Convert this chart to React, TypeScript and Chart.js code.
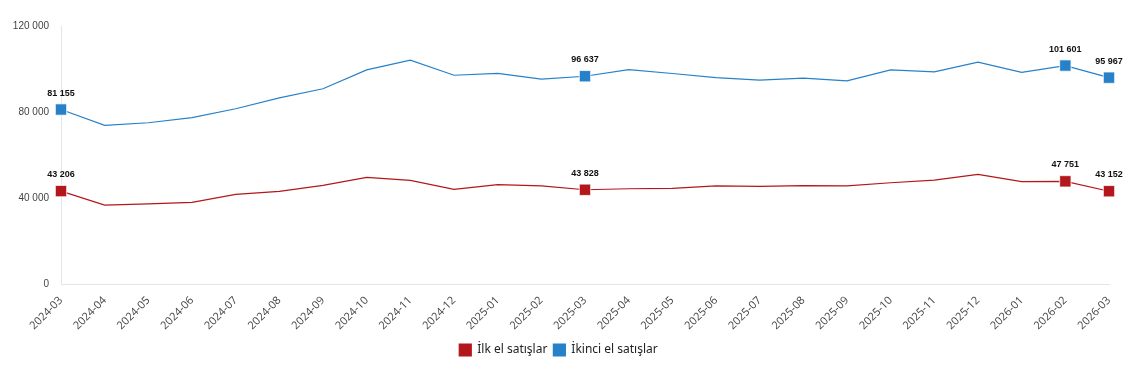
import React, { useEffect, useRef } from "react";
import { Chart, registerables } from "chart.js";

Chart.register(...registerables);

const months = [
  "2024-03", "2024-04", "2024-05", "2024-06", "2024-07", "2024-08", "2024-09", "2024-10", "2024-11", "2024-12",
  "2025-01", "2025-02", "2025-03", "2025-04", "2025-05", "2025-06", "2025-07", "2025-08", "2025-09", "2025-10",
  "2025-11", "2025-12", "2026-01", "2026-02", "2026-03",
];

const firstHandSales = [
  43206, 36700, 37300, 38000, 41700, 43100, 45900, 49600, 48200, 44000,
  46200, 45600, 43828, 44300, 44500, 45600, 45400, 45800, 45600, 47100,
  48300, 51000, 47600, 47751, 43152,
];

const secondHandSales = [
  81155, 73800, 75000, 77400, 81500, 86600, 90800, 99600, 104100, 97100,
  98000, 95300, 96637, 99700, 97900, 96000, 94800, 95800, 94500, 99600,
  98700, 103200, 98400, 101601, 95967,
];

const labelledIndices = [0, 12, 23, 24];

const seriesNames = ["İlk el satışlar", "İkinci el satışlar"];
const yTicks = [0, 40000, 80000, 120000];

const RED = "#b3171b";
const BLUE = "#2781c9";

const fmt = (v: number) => String(v).replace(/\B(?=(\d{3})+(?!\d))/g, " ");

const valueLabelPlugin = {
  id: "valueLabels",
  afterDatasetsDraw(chart: any) {
    const ctx = chart.ctx;
    ctx.save();
    ctx.font = "bold 9px 'Liberation Sans', Arial, sans-serif";
    ctx.fillStyle = "#111";
    ctx.textAlign = "center";
    ctx.textBaseline = "bottom";
    chart.data.datasets.forEach((ds: any, di: number) => {
      const meta = chart.getDatasetMeta(di);
      labelledIndices.forEach((i) => {
        const el = meta.data[i];
        if (!el) return;
        ctx.fillText(fmt(ds.data[i]), el.x, el.y - 12);
      });
    });
    ctx.restore();
  },
};

export default function App() {
  const ref = useRef<HTMLCanvasElement | null>(null);
  useEffect(() => {
    if (!ref.current) return;
    const radii = months.map((_, i) => (labelledIndices.includes(i) ? 8 : 0));
    const chart = new Chart(ref.current, {
      type: "line",
      data: {
        labels: months,
        datasets: [
          {
            label: seriesNames[0],
            data: firstHandSales,
            borderColor: RED,
            backgroundColor: RED,
            borderWidth: 1.2,
            pointStyle: "rect",
            pointRadius: radii,
            pointHoverRadius: radii,
            pointBackgroundColor: RED,
            pointBorderColor: "rgba(255,255,255,0.75)",
            pointBorderWidth: 1,
            tension: 0,
          },
          {
            label: seriesNames[1],
            data: secondHandSales,
            borderColor: BLUE,
            backgroundColor: BLUE,
            borderWidth: 1.2,
            pointStyle: "rect",
            pointRadius: radii,
            pointHoverRadius: radii,
            pointBackgroundColor: BLUE,
            pointBorderColor: "rgba(255,255,255,0.75)",
            pointBorderWidth: 1,
            tension: 0,
          },
        ],
      },
      options: {
        animation: false,
        responsive: true,
        maintainAspectRatio: false,
        layout: { padding: { top: 12, right: 20, bottom: 6, left: 0 } },
        plugins: {
          legend: {
            position: "bottom",
            labels: {
              boxWidth: 12,
              boxHeight: 12,
              padding: 6,
              color: "#222",
              font: { family: "'Noto Sans', sans-serif", size: 12 },
            },
          },
          tooltip: { enabled: false },
        },
        scales: {
          x: {
            offset: false,
            afterFit: (s: any) => { s.height = 54; },
            grid: { display: false, drawTicks: false },
            border: { display: true, color: "#e3e4ec" },
            ticks: {
              maxRotation: 45,
              minRotation: 45,
              autoSkip: false,
              padding: 10,
              color: "#444",
              font: { family: "'Open Sans', sans-serif", size: 11 },
            },
          },
          y: {
            min: 0,
            max: 120000,
            afterFit: (s: any) => { s.width = 53; },
            afterBuildTicks: (s: any) => { s.ticks = yTicks.map((v) => ({ value: v })); },
            grid: { display: false, drawTicks: false },
            border: { display: true, color: "#e3e4ec" },
            ticks: {
              padding: 12,
              color: "#444",
              font: { family: "'Liberation Sans', Arial, sans-serif", size: 10 },
              callback: (v: any) => fmt(Number(v)),
            },
          },
        },
      },
      plugins: [valueLabelPlugin],
    });
    return () => chart.destroy();
  }, []);
  return (
    <div style={{ width: 1121, height: 364, position: "relative" }}>
      <canvas ref={ref} />
    </div>
  );
}
